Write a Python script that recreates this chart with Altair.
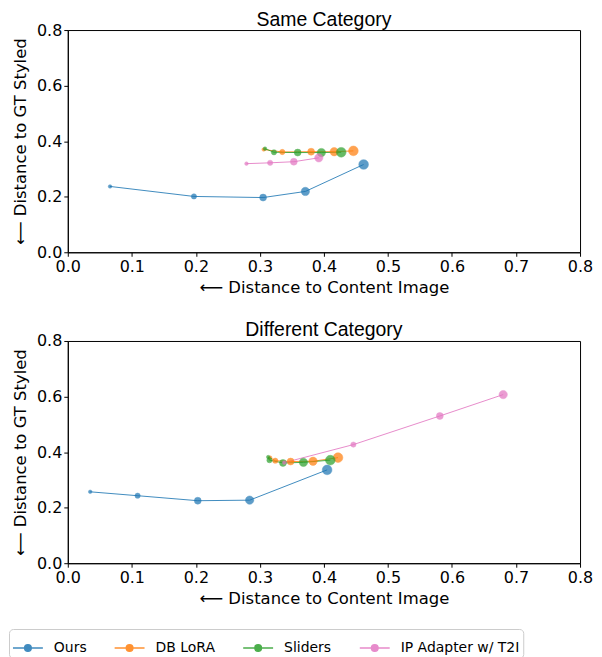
import altair as alt
import pandas as pd

METHODS = ["Ours", "DB LoRA", "Sliders", "IP Adapter w/ T2I"]
COLORS = ["#1f77b4", "#ff7f0e", "#2ca02c", "#e377c2"]
PANELS = ["Same Category", "Different Category"]
SIZES = [13, 28, 48, 70, 95]

# Same Category
same_ours_x = [0.066, 0.197, 0.305, 0.371, 0.462]
same_ours_y = [0.237, 0.201, 0.197, 0.219, 0.316]
same_db_x = [0.306, 0.335, 0.380, 0.416, 0.446]
same_db_y = [0.370, 0.361, 0.362, 0.362, 0.365]
same_sl_x = [0.308, 0.322, 0.359, 0.396, 0.427]
same_sl_y = [0.373, 0.360, 0.359, 0.359, 0.360]
same_ip_x = [0.279, 0.316, 0.353, 0.392]
same_ip_y = [0.319, 0.322, 0.326, 0.340]

# Different Category
diff_ours_x = [0.035, 0.109, 0.203, 0.284, 0.405]
diff_ours_y = [0.257, 0.243, 0.225, 0.227, 0.336]
diff_db_x = [0.316, 0.324, 0.348, 0.383, 0.422]
diff_db_y = [0.380, 0.369, 0.366, 0.367, 0.380]
diff_sl_x = [0.313, 0.315, 0.336, 0.368, 0.410]
diff_sl_y = [0.382, 0.371, 0.361, 0.363, 0.371]
diff_ip_x = [0.338, 0.446, 0.581, 0.680]
diff_ip_y = [0.362, 0.427, 0.530, 0.607]

series = {
    "Same Category": [
        ("Ours", same_ours_x, same_ours_y),
        ("DB LoRA", same_db_x, same_db_y),
        ("Sliders", same_sl_x, same_sl_y),
        ("IP Adapter w/ T2I", same_ip_x, same_ip_y),
    ],
    "Different Category": [
        ("Ours", diff_ours_x, diff_ours_y),
        ("DB LoRA", diff_db_x, diff_db_y),
        ("Sliders", diff_sl_x, diff_sl_y),
        ("IP Adapter w/ T2I", diff_ip_x, diff_ip_y),
    ],
}

rows = []
for panel, lst in series.items():
    for m, xs, ys in lst:
        for i, (x, y) in enumerate(zip(xs, ys)):
            rows.append({"panel": panel, "method": m, "x": x, "y": y,
                         "idx": i, "size": SIZES[i], "morder": METHODS.index(m)})
df = pd.DataFrame(rows)

sym = "M-1,0H1M0.22,0A0.22,0.22 0 1,1 -0.22,0A0.22,0.22 0 1,1 0.22,0"
legend = alt.Legend(
    title=None, orient="none", legendX=-59, legendY=601,
    direction="horizontal", columns=4,
    symbolType=sym, symbolSize=900, symbolStrokeWidth=1.5,
    labelFont="DejaVu Sans", labelFontSize=14, labelColor="black",
    columnPadding=25, labelOffset=10,
    strokeColor="#cccccc", cornerRadius=4, padding=3, fillColor="white",
)
cscale = alt.Scale(domain=METHODS, range=COLORS)

xax = alt.Axis(values=[i / 10 for i in range(9)], format=".1f",
               title="⟵ Distance to Content Image", titlePadding=5)
yax = alt.Axis(values=[0, 0.2, 0.4, 0.6, 0.8], format=".1f",
               title="⟵ Distance to GT Styled", titlePadding=8)


def panel_chart(name):
    base = alt.Chart(df).transform_filter(alt.datum.panel == name)
    enc_x = alt.X("x:Q", scale=alt.Scale(domain=[0, 0.8], nice=False), axis=xax)
    enc_y = alt.Y("y:Q", scale=alt.Scale(domain=[0, 0.8], nice=False), axis=yax)
    line = base.mark_line(strokeWidth=1, opacity=0.85).encode(
        x=enc_x, y=enc_y,
        stroke=alt.Stroke("method:N", scale=cscale, legend=legend),
        detail="method:N",
        order="idx:Q",
    )
    pts = base.mark_point(filled=True, opacity=0.72, strokeWidth=0.5).encode(
        x=enc_x, y=enc_y,
        fill=alt.Fill("method:N", scale=cscale, legend=legend),
        stroke=alt.Stroke("method:N", scale=cscale, legend=legend),
        size=alt.Size("size:Q", scale=None),
        order="morder:Q",
    )
    return alt.layer(line, pts).properties(
        width=514, height=223,
        title=alt.Title(name, font="Liberation Sans", fontSize=19.5,
                        fontWeight="normal", color="black", offset=-8),
    )


chart = alt.vconcat(
    panel_chart(PANELS[0]), panel_chart(PANELS[1]), spacing=24
).properties(
    padding={"left": 0, "top": 0, "right": 0, "bottom": 0}
).configure_axis(
    grid=False, domainColor="black", tickColor="black", tickSize=4,
    labelFont="DejaVu Sans", labelFontSize=16, labelColor="black",
    labelPadding=2,
    titleFont="DejaVu Sans", titleFontSize=16.5, titleFontWeight="normal",
    titleColor="black", labelFlush=False,
).configure_view(stroke="black", strokeWidth=1)

chart.save("out.html", embed_options={"renderer": "svg", "actions": False})
